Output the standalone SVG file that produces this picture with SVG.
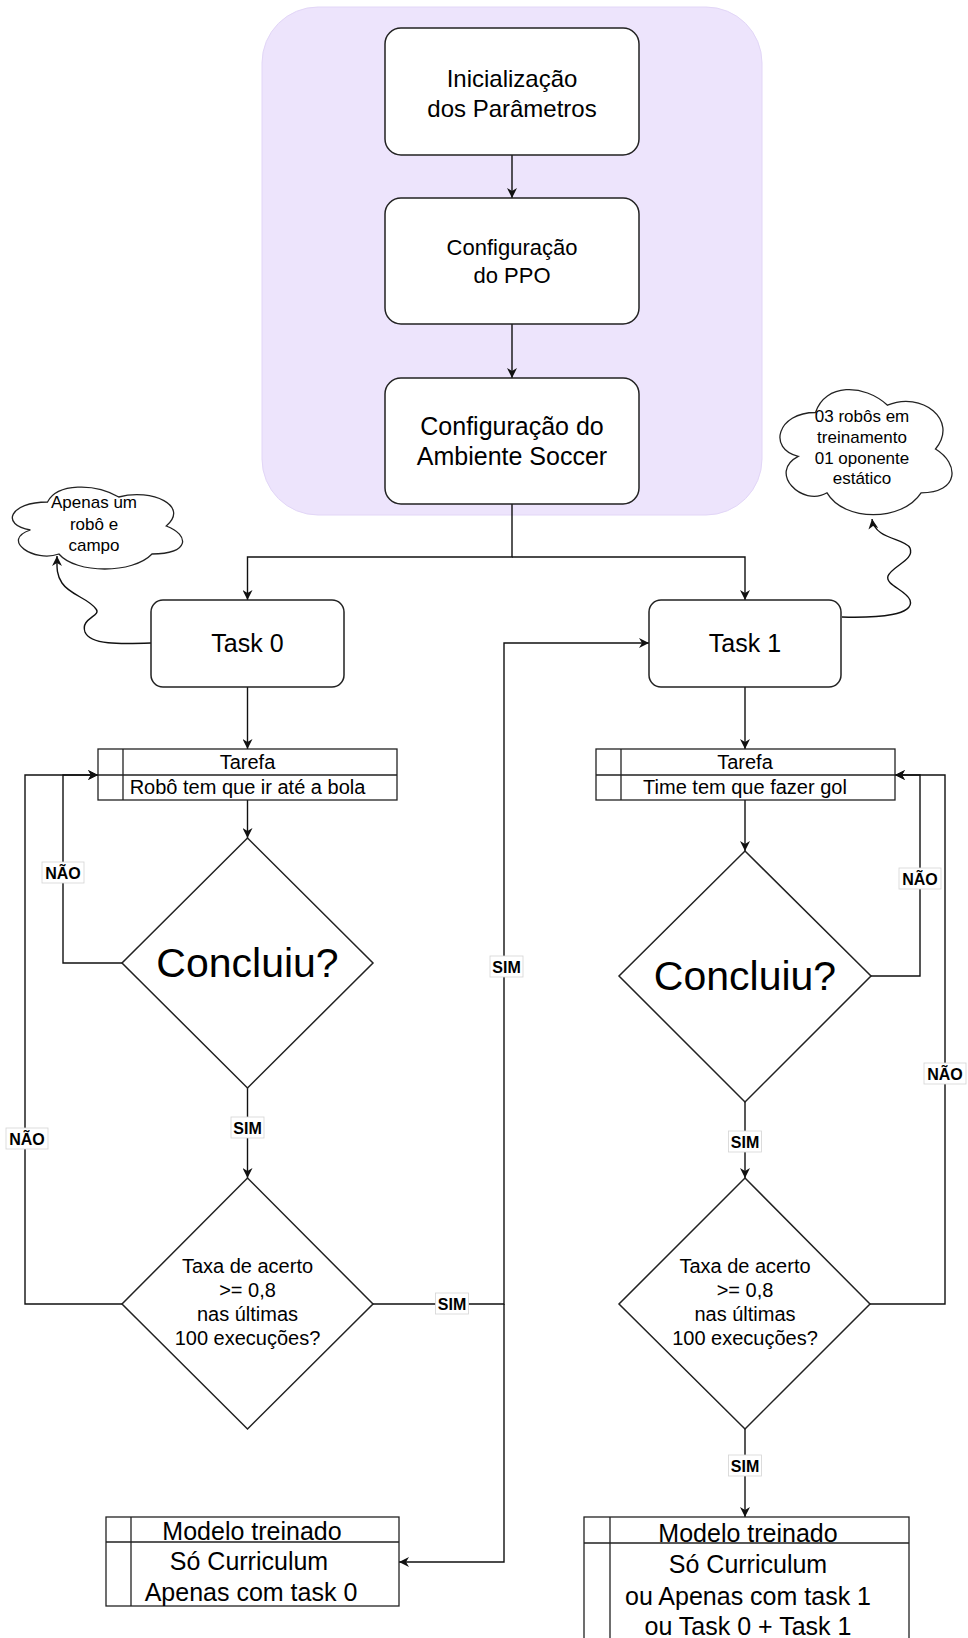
<svg xmlns="http://www.w3.org/2000/svg" width="968" height="1638" viewBox="0 0 968 1638">
<defs>
<style>
text{font-family:"Liberation Sans",Arial,sans-serif;fill:#000;text-anchor:middle}
.box{fill:#fff;stroke:#222;stroke-width:1.5}
.tbl{fill:#fff;stroke:#222;stroke-width:1.3}
.ln{fill:none;stroke:#222;stroke-width:1.3}
.edge{fill:none;stroke:#111;stroke-width:1.4}
.lbl rect{fill:#fff;stroke:#d4d4d4;stroke-width:0.8}
.lbl text{font-size:16px;font-weight:bold}
.t25{font-size:25px}
.t20{font-size:20px}
.t17{font-size:17px}
</style>
<marker id="arr" viewBox="0 0 10 10" refX="10" refY="5" markerWidth="10" markerHeight="10" markerUnits="userSpaceOnUse" orient="auto">
<path d="M0,0 L10,5 L0,10 L3,5 Z" fill="#111"/>
</marker>
</defs>
<rect width="968" height="1638" fill="#fff"/>

<g id="container">
<rect x="262" y="7" width="500" height="508" rx="56" fill="#EDE4FC" stroke="#E2D6F7" stroke-width="1"/>
</g>

<g id="connectors">
<path class="edge" d="M512,155 V198" marker-end="url(#arr)"/>
<path class="edge" d="M512,324 V378" marker-end="url(#arr)"/>
<path class="edge" d="M512,504 V557 H247.5 V600" marker-end="url(#arr)"/>
<path class="edge" d="M512,557 H745 V600" marker-end="url(#arr)"/>
<path class="edge" d="M151,643 C120,644 90,645 85,632 C80,618 102,616 96,609 C88,598 70,595 62,583 C56,574 57,566 57,556" marker-end="url(#arr)"/>
<path class="edge" d="M842,617 C880,618 915,615 910,600 C906,590 885,585 888,576 C892,566 915,560 910,548 C905,538 875,540 872,519" marker-end="url(#arr)"/>
<path class="edge" d="M247.5,687 V749" marker-end="url(#arr)"/>
<path class="edge" d="M247.5,800 V838" marker-end="url(#arr)"/>
<path class="edge" d="M247.5,1088 V1178" marker-end="url(#arr)"/>
<path class="edge" d="M122,963 H63 V775 H98" marker-end="url(#arr)"/>
<path class="edge" d="M122,1304 H25 V775 H98" marker-end="url(#arr)"/>
<path class="edge" d="M373,1304 H504 V643 H649" marker-end="url(#arr)"/>
<path class="edge" d="M504,1304 V1562 H399" marker-end="url(#arr)"/>
<path class="edge" d="M745,687 V749" marker-end="url(#arr)"/>
<path class="edge" d="M745,800 V851" marker-end="url(#arr)"/>
<path class="edge" d="M745,1102 V1178" marker-end="url(#arr)"/>
<path class="edge" d="M871,976 H920 V775 H895" marker-end="url(#arr)"/>
<path class="edge" d="M869,1304 H945 V775 H895" marker-end="url(#arr)"/>
<path class="edge" d="M745,1429 V1517" marker-end="url(#arr)"/>
<g class="lbl">
<rect x="42" y="862" width="42" height="21"/><text x="63" y="879">NÃO</text>
<rect x="6" y="1128" width="42" height="21"/><text x="27" y="1145">NÃO</text>
<rect x="231" y="1117" width="33" height="21"/><text x="247.5" y="1134">SIM</text>
<rect x="435.5" y="1293" width="33" height="21"/><text x="452" y="1310">SIM</text>
<rect x="490" y="956" width="33" height="21"/><text x="506.5" y="973">SIM</text>
<rect x="899" y="868" width="42" height="21"/><text x="920" y="885">NÃO</text>
<rect x="924" y="1063" width="42" height="21"/><text x="945" y="1080">NÃO</text>
<rect x="728.5" y="1131" width="33" height="21"/><text x="745" y="1148">SIM</text>
<rect x="728.5" y="1455" width="33" height="21"/><text x="745" y="1472">SIM</text>
</g>
</g>

<g id="init">
<rect class="box" x="385" y="28" width="254" height="127" rx="16"/>
<text x="512" y="87" style="font-size:24px">Inicialização</text>
<text x="512" y="117" style="font-size:24px">dos Parâmetros</text>
</g>
<g id="ppo">
<rect class="box" x="385" y="198" width="254" height="126" rx="16"/>
<text x="512" y="255" style="font-size:22px">Configuração</text>
<text x="512" y="283" style="font-size:22px">do PPO</text>
</g>
<g id="env">
<rect class="box" x="385" y="378" width="254" height="126" rx="16"/>
<text x="512" y="435" class="t25">Configuração do</text>
<text x="512" y="465" class="t25">Ambiente Soccer</text>
</g>

<g id="cloud0">
<path class="ln" d="M47.5,502 C9.5,502 0,525 30.4,530 C0,540 34.2,563 58.9,554 C76,574 133,574 152,554 C190,554 190,535 166.25,526 C190,506 152,488 118.75,497 C95,483 57,483 47.5,502 Z"/>
<text x="94" y="508" class="t17">Apenas um</text>
<text x="94" y="530" class="t17">robô e</text>
<text x="94" y="551" class="t17">campo</text>
</g>
<g id="cloud1">
<path class="ln" d="M815.5,412.5 C777.1,412.5 767.5,449 798.2,456.3 C767.5,472.36 802.06,507.4 827.02,492.8 C844.3,522 901.9,522 921.1,492.8 C959.5,492.8 959.5,463.6 935.5,449 C959.5,419.8 921.1,390.6 887.5,405.2 C863.5,383.3 825.1,383.3 815.5,412.5 Z"/>
<text x="862" y="422" class="t17">03 robôs em</text>
<text x="862" y="443" class="t17">treinamento</text>
<text x="862" y="464" class="t17">01 oponente</text>
<text x="862" y="484" class="t17">estático</text>
</g>

<g id="task0">
<rect class="box" x="151" y="600" width="193" height="87" rx="12"/>
<text x="247.5" y="652" class="t25">Task 0</text>
</g>
<g id="task1">
<rect class="box" x="649" y="600" width="192" height="87" rx="12"/>
<text x="745" y="652" class="t25">Task 1</text>
</g>

<g id="tarefa0">
<rect class="tbl" x="98" y="749" width="299" height="51"/>
<path class="ln" d="M98,775 H397 M123,749 V800"/>
<text x="247.5" y="769" class="t20">Tarefa</text>
<text x="247.5" y="794" class="t20">Robô tem que ir até a bola</text>
</g>
<g id="tarefa1">
<rect class="tbl" x="596" y="749" width="299" height="51"/>
<path class="ln" d="M596,775 H895 M621,749 V800"/>
<text x="745" y="769" class="t20">Tarefa</text>
<text x="745" y="794" class="t20">Time tem que fazer gol</text>
</g>

<g id="concluiu0">
<path class="box" d="M247.5,838 L373,963 L247.5,1088 L122,963 Z"/>
<text x="247.5" y="977" style="font-size:41px">Concluiu?</text>
</g>
<g id="concluiu1">
<path class="box" d="M745,851 L871,976 L745,1102 L619,976 Z"/>
<text x="745" y="990" style="font-size:41px">Concluiu?</text>
</g>

<g id="taxa0">
<path class="box" d="M247.5,1178 L373,1304 L247.5,1429 L122,1304 Z"/>
<text x="247.5" y="1273" class="t20">Taxa de acerto</text>
<text x="247.5" y="1297" class="t20">&gt;= 0,8</text>
<text x="247.5" y="1321" class="t20">nas últimas</text>
<text x="247.5" y="1345" class="t20">100 execuções?</text>
</g>
<g id="taxa1">
<path class="box" d="M745,1178 L870,1304 L745,1429 L619,1304 Z"/>
<text x="745" y="1273" class="t20">Taxa de acerto</text>
<text x="745" y="1297" class="t20">&gt;= 0,8</text>
<text x="745" y="1321" class="t20">nas últimas</text>
<text x="745" y="1345" class="t20">100 execuções?</text>
</g>

<g id="modelo0">
<rect class="tbl" x="106" y="1517" width="293" height="89"/>
<path class="ln" d="M106,1542 H399 M131,1517 V1606"/>
<text x="252" y="1540" class="t25">Modelo treinado</text>
<text x="249" y="1570" class="t25">Só Curriculum</text>
<text x="251" y="1601" class="t25">Apenas com task 0</text>
</g>
<g id="modelo1">
<rect class="tbl" x="584" y="1517" width="325" height="140"/>
<path class="ln" d="M584,1543 H909 M610,1517 V1657"/>
<text x="748" y="1542" class="t25">Modelo treinado</text>
<text x="748" y="1573" class="t25">Só Curriculum</text>
<text x="748" y="1605" class="t25">ou Apenas com task 1</text>
<text x="748" y="1635" class="t25">ou Task 0 + Task 1</text>
</g>
</svg>
